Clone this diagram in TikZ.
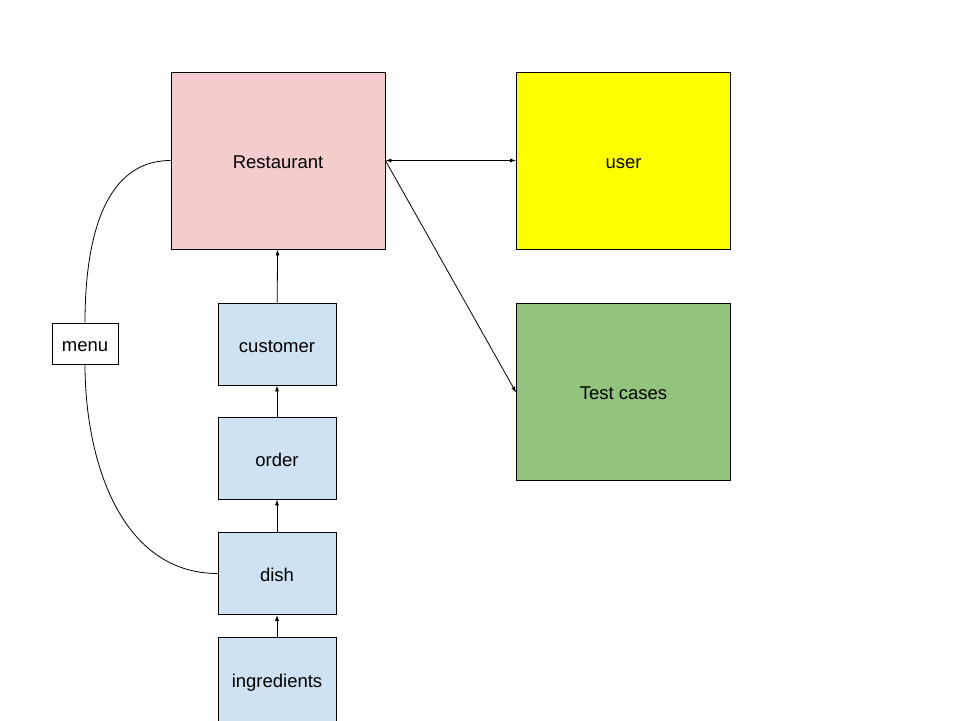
\documentclass[tikz,border=0pt]{standalone}
\usepackage{fontspec}
\setmainfont{Liberation Sans}
\usetikzlibrary{arrows.meta}
\definecolor{restpink}{HTML}{F4CCCC}
\definecolor{useryellow}{HTML}{FFFF00}
\definecolor{testgreen}{HTML}{93C47D}
\definecolor{stepblue}{HTML}{CFE2F3}
\begin{document}
\begin{tikzpicture}[
    x = 1pt, y = -1pt,
    font = \fontsize{18.5}{22}\selectfont,
    box/.style = {draw, rectangle, line width=0.8pt, inner sep=0pt, text height=16pt, text depth=0pt},
    big/.style = {box, minimum width=214pt, minimum height=177pt},
    small/.style = {box, fill=stepblue, minimum width=118pt, minimum height=82pt},
    link/.style = {line width=0.8pt, -{Latex[length=6pt,width=4pt]}},
    twoway/.style = {link, {Latex[length=6pt,width=4pt]}-{Latex[length=6pt,width=4pt]}},
    loop/.style = {line width=0.8pt}
  ]
  \useasboundingbox (0,0) rectangle (960,720);

  % big boxes
  \node[big, fill=restpink] (restaurant) at (278,160.5) {Restaurant};
  \node[big, fill=useryellow] (user) at (623.5,160.5) {user};
  \node[big, fill=testgreen] (tests) at (623.5,391.5) {Test cases};

  % the chain
  \node[small] (customer) at (277,344) {customer};
  \node[small] (order) at (277,458) {order};
  \node[small] (dish) at (277,573.5) {dish};
  \node[small, minimum height=84pt] (ingredients) at (277,679) {ingredients};

  \node[box, minimum width=66pt, minimum height=41pt] (menu) at (85,343.5) {menu};

  \draw[twoway] (restaurant.east) -- (user.west);
  \draw[link] (restaurant.east) -- ([yshift=-1pt]tests.west);
  \draw[link] (customer) -- (restaurant);
  \draw[link] (order) -- (customer);
  \draw[link] (dish) -- (order);
  \draw[link] (ingredients) -- (dish);

  \draw[loop] (restaurant.west) to[out=180, in=90] (menu.north);
  \draw[loop] (menu.south) to[out=-90, in=180] (dish.west);
\end{tikzpicture}
\end{document}
